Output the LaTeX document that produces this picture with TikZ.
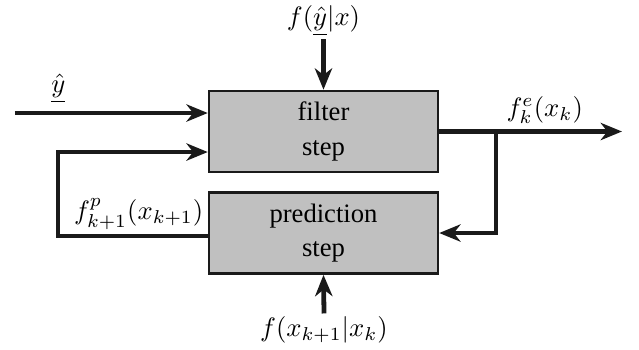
\documentclass[tikz,border=0pt]{standalone}
\usepackage[no-math]{fontspec}
\newfontfamily\blkfont{Liberation Serif}
\usetikzlibrary{arrows.meta}
\definecolor{boxgray}{HTML}{C0C0C0}
\definecolor{boxline}{HTML}{1A1A1A}
\tikzset{
  blk/.style={draw=boxline, fill=boxgray, line width=1pt, minimum width=3.02cm, minimum height=1.07cm, align=center, font=\blkfont\fontsize{10}{13}\selectfont, inner sep=0pt},
  sig/.style={-{Stealth[length=8pt, width=6.5pt, inset=2.5pt]}, draw=boxline, line width=1.8pt},
  lbl/.style={inner sep=1pt},
}

\begin{document}
\begin{tikzpicture}[x=1cm,y=1cm]
  \useasboundingbox (0,0) rectangle (8.435,4.607);
  % blocks
  \node[blk] (filter) at (4.270,2.871) {filter\\step};
  \node[blk] (predict) at (4.270,1.531) {prediction\\step};
  % labels
  \node[lbl] (fyx) at (4.270,4.330) {$f(\underline{\hat{y}}|x)$};
  \node[lbl] (fxx) at (4.277,0.251) {$f(x_{k+1}|x_k)$};
  \node[lbl, anchor=south] (yhat) at (0.770,3.200) {$\underline{\hat{y}}$};
  \node[lbl, anchor=south] (fe) at (7.190,2.930) {$f^e_k(x_k)$};
  \node[lbl, anchor=south] (fp) at (1.830,1.530) {$f^p_{k+1}(x_{k+1})$};
  % free ends
  \coordinate (yin) at (0.198,3.115);
  \coordinate (fbtop) at (0.766,2.600);
  \coordinate (fbbot) at (0.766,1.492);
  \coordinate (outend) at (8.210,2.871);
  \coordinate (br) at (6.547,2.871);
  % connectors
  \draw[sig] (yin) -- (yin -| filter.west);
  \draw[sig] (fyx.south) -- (filter.north);
  \draw[sig] (fxx.north) -- (predict.south);
  \draw[sig] (filter.east) -- (outend);
  \draw[sig] (br) |- (predict.east);
  \draw[sig] (predict.west |- fbbot) -- (fbbot) -- (fbtop) -- (filter.west |- fbtop);
\end{tikzpicture}
\end{document}
